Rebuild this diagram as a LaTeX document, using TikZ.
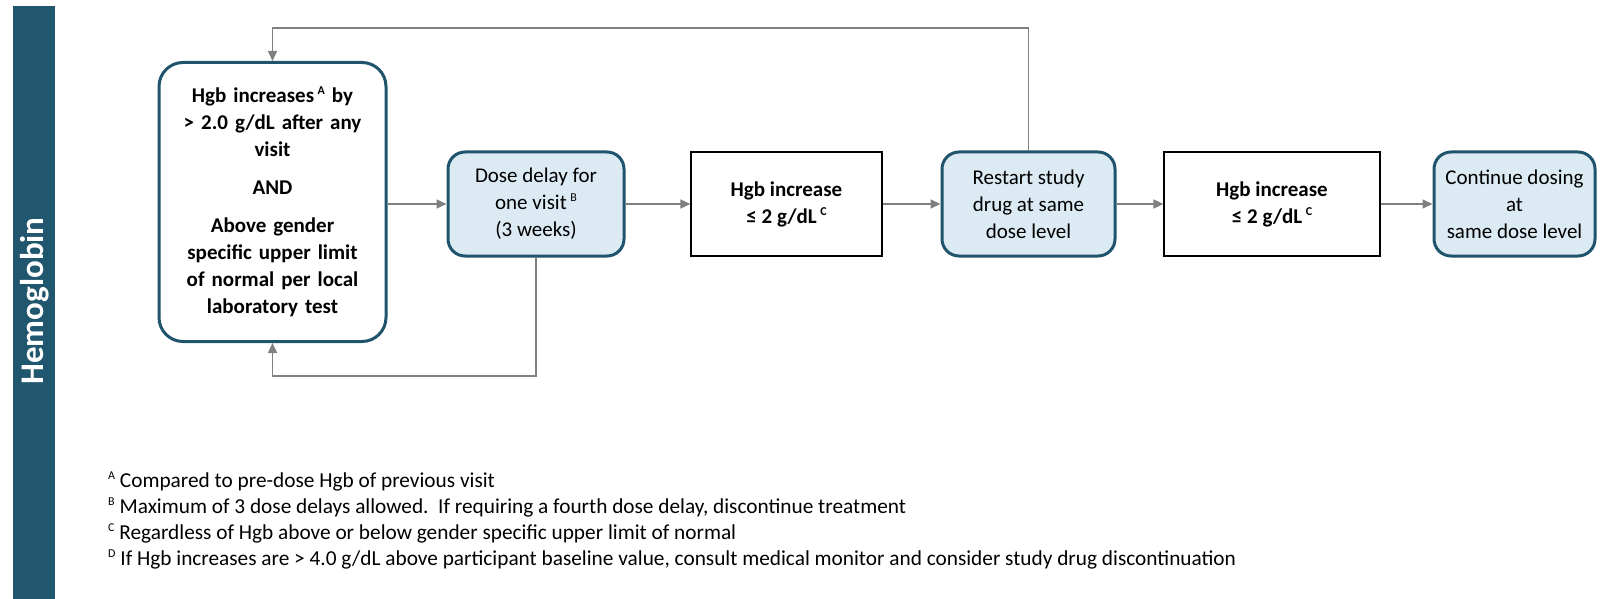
\documentclass[tikz,border=0pt]{standalone}
\usepackage{fontspec}
\setmainfont{Carlito}
\usepackage{tikz}
\usetikzlibrary{arrows.meta,positioning}

\definecolor{lanecol}{RGB}{33,86,111}
\definecolor{edgecol}{RGB}{31,84,108}
\definecolor{softblue}{RGB}{219,234,243}
\definecolor{linkgray}{RGB}{128,128,128}

\newcommand{\fnmark}[1]{\raisebox{0.38em}{\fontsize{12}{12}\selectfont #1}}

\begin{document}
\begin{tikzpicture}[x=1pt, y=-1pt,
  txt/.style={font=\fontsize{21}{27}\selectfont, align=center, inner sep=0pt},
  rule/.style={txt, draw=edgecol, line width=3pt, rounded corners=17pt,
               fill=softblue, minimum height=104pt},
  check/.style={txt, draw=black, line width=1.2pt, minimum height=104pt,
                font=\fontsize{21}{27}\selectfont\bfseries},
  flow/.style={draw=linkgray, line width=1.6pt,
               -{Triangle[length=10pt, width=9pt]}}]
  \useasboundingbox (0,0) rectangle (1609,599);

  % side label
  \fill[lanecol] (13,6) rectangle (55,599);
  \node[rotate=90, text=white, inner sep=0pt,
        font=\fontsize{33}{35}\selectfont\bfseries] (lane) at (35,301) {Hemoglobin};

  % boxes
  \node[txt, draw=edgecol, line width=3pt, rounded corners=24pt,
        minimum width=227pt, minimum height=279pt, text width=205pt,
        font=\fontsize{21}{27}\selectfont\bfseries] (trig) at (272.5,202)
    {Hgb increases\,\fnmark{A} by\\ > 2.0 g/dL after any\\ visit\\[11pt]
     AND\\[11pt] Above gender\\ specific upper limit\\ of normal per local\\ laboratory test};
  \node[rule, minimum width=176pt] (delay) at (536,204)
    {Dose delay for\\ one visit\,\fnmark{B}\\ (3 weeks)};
  \node[check, minimum width=191pt] (inc1) at (786.5,204)
    {Hgb increase\\ ≤ 2 g/dL\,\fnmark{C}};
  \node[rule, minimum width=173pt] (restart) at (1028.5,204)
    {Restart study\\ drug at same\\ dose level};
  \node[check, minimum width=216pt] (inc2) at (1272,204)
    {Hgb increase\\ ≤ 2 g/dL\,\fnmark{C}};
  \node[rule, minimum width=161pt] (cont) at (1514.5,204)
    {Continue dosing\\ at\\ same dose level};

  \coordinate (topline) at (0,28);
  \coordinate (botline) at (0,376);

  % connectors
  \draw[flow] (trig.east |- delay) -- (delay);
  \draw[flow] (delay) -- (inc1);
  \draw[flow] (inc1) -- (restart);
  \draw[flow] (restart) -- (inc2);
  \draw[flow] (inc2) -- (cont);
  \draw[flow] (restart.north) -- (restart.north |- topline) -| (trig.north);
  \draw[flow] (delay.south) -- (delay.south |- botline) -| (trig.south);

  % notes
  \node[anchor=north west, align=left, inner sep=0pt,
        font=\fontsize{21.3}{26}\selectfont] (notes) at (108,472)
    {\fnmark{A} Compared to pre-dose Hgb of previous visit\\
     \fnmark{B} Maximum of 3 dose delays allowed.\ \ If requiring a fourth dose delay, discontinue treatment\\
     \fnmark{C} Regardless of Hgb above or below gender specific upper limit of normal\\
     \fnmark{D} If Hgb increases are > 4.0 g/dL above participant baseline value, consult medical monitor and consider study drug discontinuation};
\end{tikzpicture}
\end{document}
